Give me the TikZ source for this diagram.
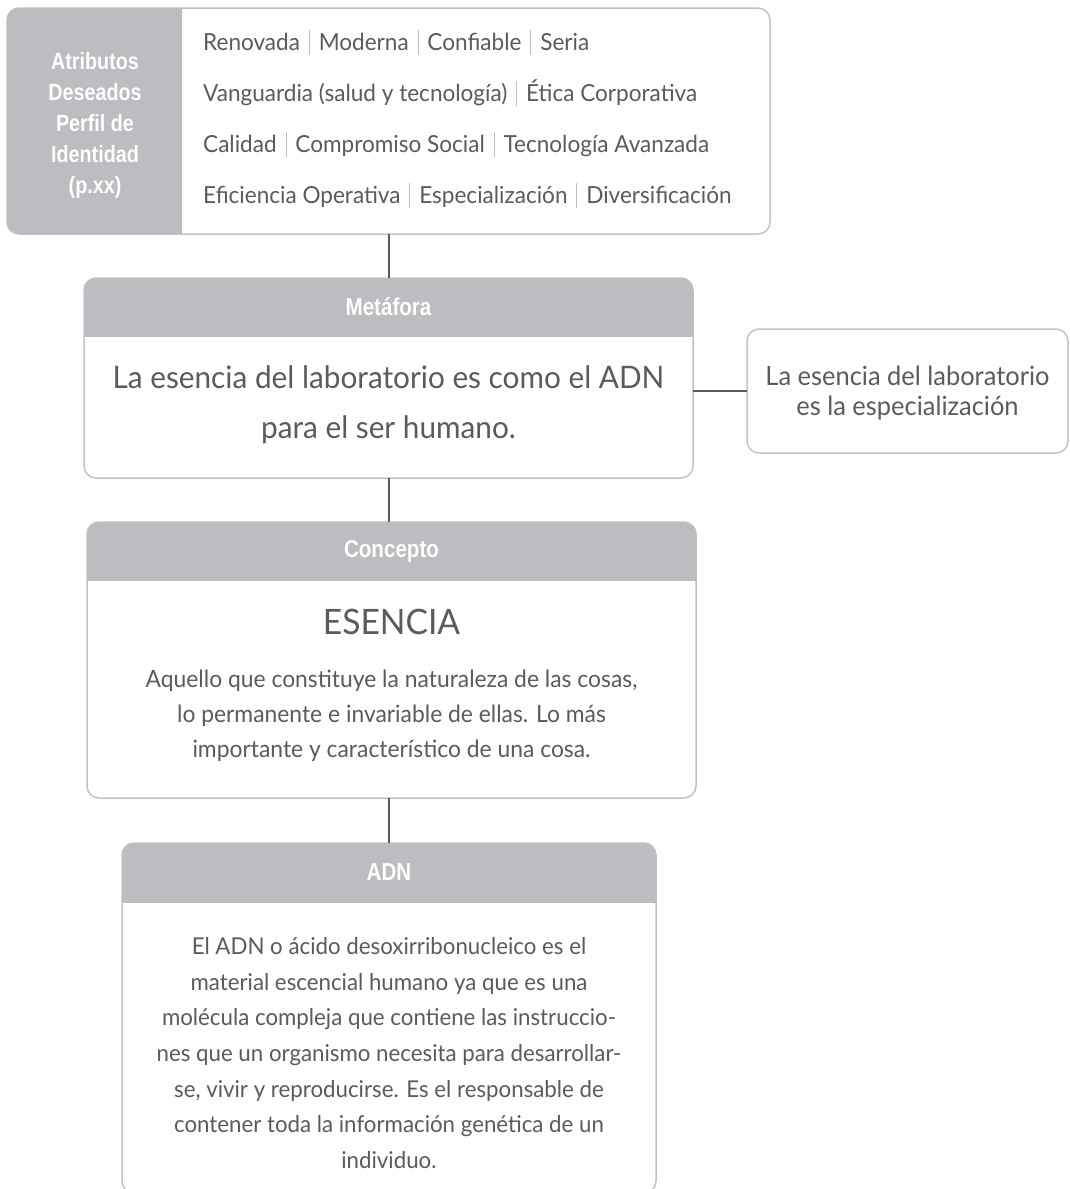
\documentclass[tikz,border=0pt]{standalone}
\usepackage{fontspec}
\setmainfont{Lato}[FakeStretch=0.96]
\newfontfamily\hdrfont{Liberation Sans}[FakeStretch=0.84]
\definecolor{hdrc}{HTML}{BCBDC0}
\definecolor{bordc}{HTML}{C2C3C5}
\definecolor{textc}{HTML}{5A5B5D}
\definecolor{linec}{HTML}{58595B}
\definecolor{sepc}{HTML}{BDBEC0}
\newcommand\sepbar{\hspace{0.38em}{\color{sepc}\rule[-0.2em]{0.9pt}{1.05em}}\hspace{0.38em}}
\tikzset{
  box/.style={draw=bordc, line width=1.5pt, fill=white, rounded corners=12pt, inner sep=0pt, outer sep=0pt},
  hdrtext/.style={text=white, font=\hdrfont\bfseries\fontsize{24.5}{28}\selectfont},
  wire/.style={draw=linec, line width=2pt},
  attrline/.style={anchor=base west, inner sep=0pt, text=textc, font=\fontsize{23.5}{28}\selectfont},
  bodytext/.style={text=textc, align=center, inner sep=0pt}
}
\begin{document}
\begin{tikzpicture}[x=1pt,y=-1pt]
\useasboundingbox (0,0) rectangle (1070,1189);
\clip (0,0) rectangle (1070,1189);

% top attributes box
\node[box, anchor=north west, minimum width=763, minimum height=226] (attr) at (7,8) {};
\begin{scope}
  \clip (0,0) rectangle (182,240);
  \fill[hdrc, rounded corners=12pt] (attr.north west) rectangle (attr.south east);
\end{scope}
\node[text=white, align=center, inner sep=0pt, font=\hdrfont\bfseries\fontsize{23.5}{31}\selectfont] (attrh) at (95,125) {Atributos\\Deseados\\Perfil de\\Identidad\\(p.xx)};
\node[attrline] (a1) at (203,50) {Renovada\sepbar Moderna\sepbar Confiable\sepbar Seria};
\node[attrline] (a2) at (203,101) {Vanguardia (salud y tecnología)\sepbar Ética Corporativa};
\node[attrline] (a3) at (203,152) {Calidad\sepbar Compromiso Social\sepbar Tecnología Avanzada};
\node[attrline] (a4) at (203,203) {Eficiencia Operativa\sepbar Especialización\sepbar Diversificación};

% Metafora box
\node[box, anchor=north west, minimum width=609, minimum height=200] (meta) at (84,278) {};
\begin{scope}
  \clip (0,270) rectangle (1070,336);
  \fill[hdrc, rounded corners=12pt] (meta.north west) rectangle (meta.south east);
\end{scope}
\node[hdrtext] (metah) at (388.5,307) {Metáfora};
\node[bodytext, font=\fontsize{31}{50}\selectfont] (metat) at (388.5,405) {La esencia del laboratorio es como el ADN\\para el ser humano.};

% right box
\node[box, anchor=north west, minimum width=321, minimum height=124] (rbox) at (747,329) {};
\node[bodytext, font=\fontsize{26.5}{30}\selectfont] (rboxt) at (907.5,393) {La esencia del laboratorio\\es la especialización};

% Concepto box
\node[box, anchor=north west, minimum width=609, minimum height=276] (conc) at (87,522) {};
\begin{scope}
  \clip (0,515) rectangle (1070,580);
  \fill[hdrc, rounded corners=12pt] (conc.north west) rectangle (conc.south east);
\end{scope}
\node[hdrtext] (conch) at (391.5,551) {Concepto};
\node[anchor=base, inner sep=0pt, text=textc, font=\fontsize{35}{40}\selectfont] (esen) at (391.5,634) {ESENCIA};
\node[bodytext, font=\fontsize{23.8}{35}\selectfont] (desc) at (391.5,716) {Aquello que constituye la naturaleza de las cosas,\\lo permanente e invariable de ellas. Lo más\\importante y característico de una cosa.};

% ADN box
\node[box, anchor=north west, minimum width=534, minimum height=350] (adn) at (122,843) {};
\begin{scope}
  \clip (0,835) rectangle (1070,902);
  \fill[hdrc, rounded corners=12pt] (adn.north west) rectangle (adn.south east);
\end{scope}
\node[hdrtext] (adnh) at (389,872) {ADN};
\node[bodytext, font=\fontsize{23.2}{35.7}\selectfont] (adnt) at (389,1053) {El ADN o ácido desoxirribonucleico es el\\material escencial humano ya que es una\\molécula compleja que contiene las instruccio-\\nes que un organismo necesita para desarrollar-\\se, vivir y reproducirse. Es el responsable de\\contener toda la información genética de un\\individuo.};

% connectors
\draw[wire] (attr.south) -- (meta.north);
\draw[wire] (meta.south) -- (meta.south |- conc.north);
\draw[wire] (conc.south -| adn.north) -- (adn.north);
\draw[wire] (rbox.west -| meta.east) -- (rbox.west);
\end{tikzpicture}
\end{document}
